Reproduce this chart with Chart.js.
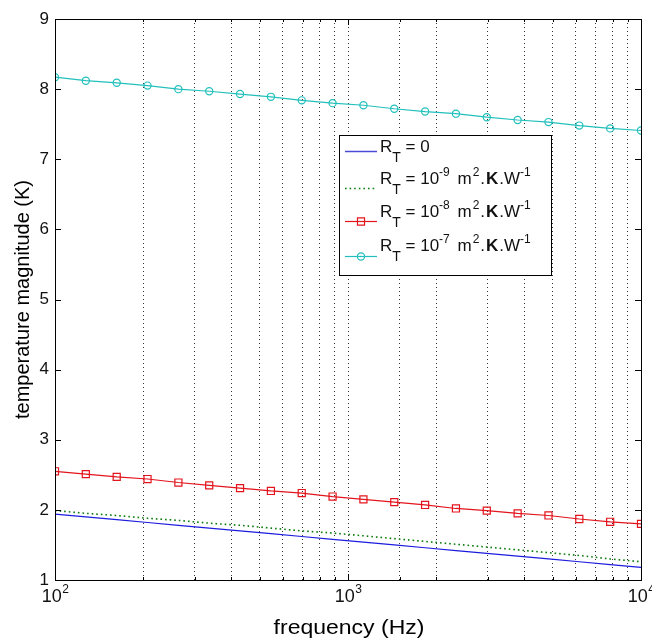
<!DOCTYPE html>
<html>
<head>
<meta charset="utf-8">
<script src="https://cdn.jsdelivr.net/npm/chart.js@4/dist/chart.umd.min.js"></script>
<style>
  html, body { margin: 0; padding: 0; background: #fff; }
  canvas { display: block; }
</style>
</head>
<body>
<canvas id="main-chart" width="652" height="638"></canvas>
<script>
// frequencies (Hz), 20 points per curve
const freqs = [100, 127.4, 162.4, 206.9, 263.7, 336.0, 428.1, 545.6, 695.2, 885.9,
               1128.8, 1438.4, 1833.0, 2335.7, 2976.4, 3792.7, 4832.9, 6158.5, 7847.6, 10000];

// temperature magnitude (K)
const rt0 = [1.94, 1.90, 1.86, 1.82, 1.78, 1.74, 1.70, 1.66, 1.62, 1.58,
             1.54, 1.50, 1.46, 1.42, 1.38, 1.34, 1.30, 1.26, 1.22, 1.18];
const rt9 = [1.99, 1.95, 1.92, 1.88, 1.85, 1.81, 1.78, 1.74, 1.70, 1.67,
             1.63, 1.59, 1.55, 1.51, 1.47, 1.43, 1.39, 1.35, 1.30, 1.26];
const rt8 = [2.55, 2.51, 2.47, 2.44, 2.39, 2.35, 2.31, 2.27, 2.24, 2.19,
             2.15, 2.11, 2.07, 2.02, 1.99, 1.95, 1.92, 1.87, 1.83, 1.80];
const rt7 = [8.17, 8.12, 8.09, 8.05, 8.00, 7.97, 7.93, 7.89, 7.84, 7.80,
             7.77, 7.72, 7.68, 7.65, 7.60, 7.56, 7.53, 7.48, 7.44, 7.41];

const yTicks = [1, 2, 3, 4, 5, 6, 7, 8, 9];
const decadeTicks = [100, 1000, 10000];
const decadeExps = ['2', '3', '4'];
const legendExps = [null, '-9', '-8', '-7'];
const xTitle = 'frequency (Hz)';

const FONT = "'Liberation Sans', Arial, Helvetica, sans-serif";
Chart.defaults.font.family = FONT;

const colors = ['#1c1ce0', '#0a7a0a', '#e3141c', '#22c0bc'];
const legendLineColors = ['#4a4ad8', '#0a7a0a', '#e3141c', '#22c0bc'];

function pts(vals) {
    return freqs.map((f, i) => ({ x: f, y: vals[i] }));
}

const data = {
    datasets: [
        { data: pts(rt0), borderColor: colors[0], borderWidth: 1.2, pointRadius: 0 },
        { data: pts(rt9), borderColor: colors[1], borderWidth: 1.6, borderDash: [1.6, 3], pointRadius: 0 },
        { data: pts(rt8), borderColor: colors[2], borderWidth: 1.2, pointStyle: 'rect', pointRadius: 5,
          pointBorderWidth: 1.2, pointBorderColor: colors[2], pointBackgroundColor: 'rgba(0,0,0,0)' },
        { data: pts(rt7), borderColor: colors[3], borderWidth: 1.2, pointStyle: 'circle', pointRadius: 3.6,
          pointBorderWidth: 1.2, pointBorderColor: colors[3], pointBackgroundColor: 'rgba(0,0,0,0)' }
    ]
};

// axes box, inward ticks, x decade labels, x title and the legend
const matlabFrame = {
    id: 'matlabFrame',
    afterDraw(chart) {
        const ctx = chart.ctx;
        const a = chart.chartArea;
        const xs = chart.scales.x;
        const ys = chart.scales.y;
        ctx.save();
        ctx.strokeStyle = '#000';
        ctx.lineWidth = 1;
        ctx.setLineDash([]);

        // ticks
        ctx.beginPath();
        yTicks.forEach(v => {
            const y = Math.round(ys.getPixelForValue(v)) + 0.5;
            ctx.moveTo(a.left, y); ctx.lineTo(a.left + 6, y);
            ctx.moveTo(a.right, y); ctx.lineTo(a.right - 6, y);
        });
        xs.ticks.forEach(t => {
            const x = Math.round(xs.getPixelForValue(t.value)) + 0.5;
            const len = decadeTicks.includes(t.value) ? 6 : 3;
            ctx.moveTo(x, a.bottom); ctx.lineTo(x, a.bottom - len);
            ctx.moveTo(x, a.top); ctx.lineTo(x, a.top + len);
        });
        ctx.stroke();

        // box
        ctx.strokeRect(Math.round(a.left) + 0.5, Math.round(a.top) + 0.5,
                       Math.round(a.right - a.left), Math.round(a.bottom - a.top));

        // x labels 10^n
        ctx.fillStyle = '#111';
        ctx.textBaseline = 'alphabetic';
        ctx.textAlign = 'left';
        decadeTicks.forEach((v, i) => {
            const x = xs.getPixelForValue(v);
            ctx.font = '18px ' + FONT;
            const w1 = ctx.measureText('10').width;
            ctx.font = '12px ' + FONT;
            const w2 = ctx.measureText(decadeExps[i]).width;
            const x0 = x - (w1 + w2) / 2;
            ctx.font = '18px ' + FONT;
            ctx.fillText('10', x0, 602);
            ctx.font = '12px ' + FONT;
            ctx.fillText(decadeExps[i], x0 + w1 + 0.5, 593);
        });

        // x title (slightly wide, as in the original figure)
        ctx.save();
        ctx.fillStyle = '#000';
        ctx.font = '20px ' + FONT;
        ctx.textAlign = 'center';
        ctx.translate((a.left + a.right) / 2 + 1, 634);
        ctx.scale(1.15, 1);
        ctx.fillText(xTitle, 0, 0);
        ctx.restore();

        // legend
        const box = { x: 339, y: 135, w: 212, h: 140 };
        ctx.fillStyle = '#fff';
        ctx.fillRect(box.x, box.y, box.w, box.h);
        ctx.strokeStyle = '#000';
        ctx.strokeRect(box.x + 0.5, box.y + 0.5, box.w, box.h);

        const baselines = [152, 184, 217, 251];
        const lineYs = [151, 188, 221, 256];
        data.datasets.forEach((ds, i) => {
            const ly = lineYs[i] + 0.5;
            ctx.save();
            ctx.strokeStyle = legendLineColors[i];
            ctx.lineWidth = i === 0 ? 1.5 : ds.borderWidth;
            ctx.setLineDash(ds.borderDash || []);
            ctx.beginPath();
            ctx.moveTo(345, ly); ctx.lineTo(377, ly);
            ctx.stroke();
            ctx.setLineDash([]);
            if (ds.pointRadius) {
                ctx.lineWidth = ds.pointBorderWidth;
                ctx.beginPath();
                if (ds.pointStyle === 'rect') {
                    const s = ds.pointRadius * Math.SQRT1_2;
                    ctx.rect(361 - s, ly - s, 2 * s, 2 * s);
                } else {
                    ctx.arc(361, ly, ds.pointRadius, 0, Math.PI * 2);
                }
                ctx.stroke();
            }
            ctx.restore();

            const b = baselines[i];
            let segs;
            if (legendExps[i] === null) {
                segs = [['R', 'n', 0], ['T', 's', 0], [' = 0', 'n', 0]];
            } else {
                segs = [['R', 'n', 0], ['T', 's', 0], [' = 10', 'n', 0], [legendExps[i], 'p', 3], [' m', 'n', 1],
                        ['2', 'p', 1], ['.', 'n', 1], ['K', 'b', 1], ['.W', 'n', 0], ['-1', 'p', 0]];
            }
            let x = 380;
            ctx.fillStyle = '#111';
            segs.forEach(([txt, st, gap]) => {
                let yy = b;
                if (st === 'n') ctx.font = '17px ' + FONT;
                if (st === 'b') ctx.font = 'bold 17px ' + FONT;
                if (st === 's') { ctx.font = '14px ' + FONT; yy = b + 10; }
                if (st === 'p') { ctx.font = '12px ' + FONT; yy = b - 8; }
                ctx.fillText(txt, x, yy);
                x += ctx.measureText(txt).width + gap;
            });
        });
        ctx.restore();
    }
};

const config = {
    type: 'line',
    data: data,
    options: {
        responsive: false,
        animation: false,
        layout: { padding: { top: 19, right: 11, left: 0, bottom: 0 } },
        elements: { line: { tension: 0, fill: false } },
        plugins: { legend: { display: false }, tooltip: { enabled: false } },
        scales: {
            x: {
                type: 'logarithmic',
                min: 100,
                max: 10000,
                afterFit: s => { s.height = 58; },
                ticks: { autoSkip: false, maxRotation: 0, callback: () => '' },
                grid: { color: '#333', lineWidth: 1, drawTicks: false },
                border: { display: false, dash: [1, 3] }
            },
            y: {
                min: 1,
                max: 9,
                afterFit: s => { s.width = 55; },
                afterBuildTicks: s => { s.ticks = yTicks.map(v => ({ value: v })); },
                ticks: { color: '#111', font: { size: 17 }, padding: 6 },
                grid: { display: false, drawTicks: false },
                border: { display: false },
                title: {
                    display: true,
                    text: 'temperature magnitude (K)',
                    color: '#000',
                    font: { size: 20, lineHeight: 1.2 },
                    padding: { top: 11, bottom: 0 }
                }
            }
        }
    },
    plugins: [matlabFrame]
};

const myChart = new Chart(document.getElementById('main-chart'), config);
</script>
</body>
</html>
